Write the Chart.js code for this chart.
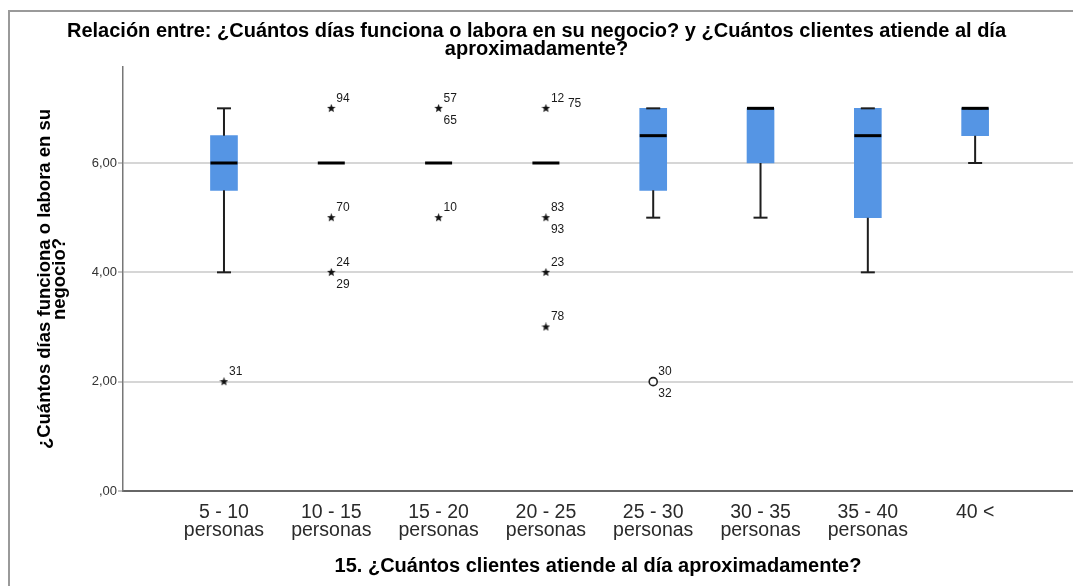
<!DOCTYPE html>
<html>
<head>
<meta charset="utf-8">
<script src="https://cdn.jsdelivr.net/npm/chart.js@4/dist/chart.umd.min.js"></script>
<style>
  html, body { margin: 0; padding: 0; background: #fff; width: 1073px; height: 586px; overflow: hidden; }
  #frame { position: absolute; left: 8px; top: 10px; width: 1100px; height: 600px; border-left: 2px solid #9a9a9a; border-top: 2px solid #9a9a9a; }
  #wrap { position: absolute; left: 0; top: 0; width: 1096px; height: 586px; }
</style>
</head>
<body>
<div id="frame"></div>
<div id="wrap"><canvas id="chart"></canvas></div>
<script>
// categorías del eje X
const categories = [
    ['5 - 10', 'personas'], ['10 - 15', 'personas'], ['15 - 20', 'personas'], ['20 - 25', 'personas'],
    ['25 - 30', 'personas'], ['30 - 35', 'personas'], ['35 - 40', 'personas'], '40 <'
];

// estadísticos de cada caja
const q1          = [5.5, 6, 6, 6, 5.5, 6, 5, 6.5];
const median      = [6,   6, 6, 6, 6.5, 7, 6.5, 7];
const q3          = [6.5, 6, 6, 6, 7,   7, 7, 7];
const whiskerLow  = [4,   6, 6, 6, 5,   5, 4, 6];
const whiskerHigh = [7,   6, 6, 6, 7,   7, 7, 7];

// valores extremos (estrella) y atípicos (círculo) con su número de caso
const extremeCat = [0, 1, 1, 1, 2, 2, 3, 3, 3, 3];
const extremeVal = [2, 7, 5, 4, 7, 5, 7, 5, 4, 3];
const extremeIds = [['31'], ['94'], ['70'], ['24', '29'], ['57', '65'], ['10'], ['12', '75'], ['83', '93'], ['23'], ['78']];
const outlierCat = [4];
const outlierVal = [2];
const outlierIds = [['30', '32']];

const yTicks = [0, 2, 4, 6];

const FONT = '"Liberation Sans", Arial, sans-serif';

// estrella rellena como imagen para pointStyle
function makeStar(size) {
    const c = document.createElement('canvas');
    c.width = size; c.height = size;
    const g = c.getContext('2d');
    const cx = size / 2, cy = size / 2, ro = size / 2, ri = size / 4.6;
    g.beginPath();
    for (let k = 0; k < 10; k++) {
        const r = k % 2 === 0 ? ro : ri;
        const a = -Math.PI / 2 + k * Math.PI / 5;
        g.lineTo(cx + r * Math.cos(a), cy + r * Math.sin(a));
    }
    g.closePath();
    g.fillStyle = '#111';
    g.fill();
    return c;
}
const starImg = makeStar(9);

// construir datos
const boxData = [], medianData = [], capData = [], whiskerData = [];
categories.forEach((c, i) => {
    if (q3[i] > q1[i]) boxData.push({ x: i, y: [q1[i], q3[i]] });
    medianData.push({ x: i, y: median[i] });
    if (whiskerHigh[i] > whiskerLow[i]) {
        capData.push({ x: i, y: whiskerLow[i] }, { x: i, y: whiskerHigh[i] });
        whiskerData.push({ x: i, y: q3[i] }, { x: i, y: whiskerHigh[i] }, { x: i, y: null });
        whiskerData.push({ x: i, y: q1[i] }, { x: i, y: whiskerLow[i] }, { x: i, y: null });
    }
});
const extremeData = extremeCat.map((c, i) => ({ x: c, y: extremeVal[i] }));
const outlierData = outlierCat.map((c, i) => ({ x: c, y: outlierVal[i] }));

// etiquetas de casos junto a los puntos
const sideLabels = { '75': true };
const caseLabels = {
    id: 'caseLabels',
    afterDatasetsDraw(chart) {
        const ctx = chart.ctx;
        ctx.save();
        ctx.font = '12px ' + FONT;
        ctx.fillStyle = '#1a1a1a';
        ctx.textBaseline = 'middle';
        ctx.textAlign = 'left';
        const groups = [[5, extremeIds], [6, outlierIds]];
        groups.forEach(([dsIndex, ids]) => {
            const meta = chart.getDatasetMeta(dsIndex);
            meta.data.forEach((pt, i) => {
                ids[i].forEach((id, j) => {
                    if (sideLabels[id]) ctx.fillText(id, pt.x + 22, pt.y - 5);
                    else if (j === 0) ctx.fillText(id, pt.x + 5, pt.y - 10);
                    else ctx.fillText(id, pt.x + 5, pt.y + 12);
                });
            });
        });
        ctx.restore();
    }
};

new Chart(document.getElementById('chart'), {
    type: 'bar',
    data: {
        datasets: [
            { type: 'bar', data: boxData, backgroundColor: '#5595e4', borderWidth: 0, barThickness: 27, order: 6 },
            { type: 'line', data: whiskerData, borderColor: '#1e1e1e', borderWidth: 2, pointRadius: 0, spanGaps: false, order: 5 },
            { type: 'scatter', data: capData, pointStyle: 'line', pointRadius: 7, borderColor: '#1e1e1e', borderWidth: 2, order: 4 },
            { type: 'scatter', data: medianData, pointStyle: 'line', pointRadius: 13.5, borderColor: '#000', borderWidth: 3, order: 3 },
            { type: 'scatter', data: [], order: 2 },
            { type: 'scatter', data: extremeData, pointStyle: starImg, order: 1 },
            { type: 'scatter', data: outlierData, pointStyle: 'circle', pointRadius: 4, borderWidth: 1.6, borderColor: '#222', backgroundColor: '#fff', order: 0 }
        ]
    },
    options: {
        responsive: true,
        maintainAspectRatio: false,
        animation: false,
        events: [],
        layout: { padding: { left: 0, right: 23, top: 0, bottom: 0 } },
        plugins: {
            legend: { display: false },
            tooltip: { enabled: false },
            title: {
                display: true,
                text: ['Relación entre: ¿Cuántos días funciona o labora en su negocio? y ¿Cuántos clientes atiende al día', 'aproximadamente?'],
                color: '#000',
                font: { family: FONT, size: 20, weight: 'bold', lineHeight: 0.9 },
                padding: { top: 22, bottom: 9 }
            }
        },
        scales: {
            x: {
                type: 'linear',
                offset: false,
                min: -0.941,
                max: 7.912,
                afterBuildTicks: scale => { scale.ticks = categories.map((c, i) => ({ value: i })); },
                afterFit: scale => { scale.height = 95; },
                grid: { display: false, drawTicks: false, offset: false },
                border: { display: true, color: '#666', width: 2 },
                ticks: {
                    autoSkip: false, maxRotation: 0, minRotation: 0, padding: 13,
                    color: '#2a2a2a',
                    font: { family: FONT, size: 19.5, lineHeight: 0.9 },
                    callback: v => categories[v]
                },
                title: {
                    display: true,
                    text: '15. ¿Cuántos clientes atiende al día aproximadamente?',
                    color: '#000',
                    font: { family: FONT, size: 20, weight: 'bold', lineHeight: 1.0 },
                    padding: { top: 4, bottom: 10 }
                }
            },
            y: {
                min: 0,
                max: 7.756,
                afterBuildTicks: scale => { scale.ticks = yTicks.map(v => ({ value: v })); },
                afterFit: scale => { scale.width = 123; },
                grid: { color: '#d6d6d6', lineWidth: 2, tickLength: 5, tickColor: '#888', tickWidth: 1 },
                border: { display: true, color: '#777', width: 1.5 },
                ticks: {
                    padding: 1,
                    color: '#333',
                    font: { family: FONT, size: 13 },
                    callback: v => v === 0 ? ',00' : v.toFixed(2).replace('.', ',')
                },
                title: {
                    display: true,
                    text: ['¿Cuántos días funciona o labora en su', 'negocio?'],
                    color: '#000',
                    font: { family: FONT, size: 18.5, weight: 'bold', lineHeight: 0.82 },
                    padding: { top: 37, bottom: 0 }
                }
            }
        }
    },
    plugins: [caseLabels]
});
</script>
</body>
</html>
